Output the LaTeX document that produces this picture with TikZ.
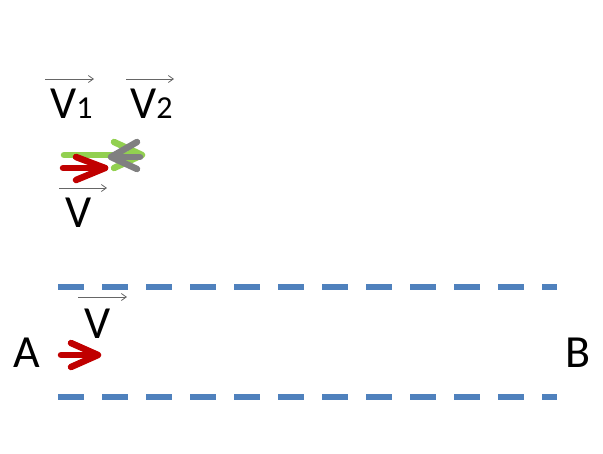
\documentclass[tikz,border=0pt]{standalone}
\usepackage{fontspec}
\setmainfont{Carlito}
\usetikzlibrary{arrows.meta}
\definecolor{myred}{HTML}{C00000}
\definecolor{mygreen}{HTML}{92D050}
\definecolor{mygray}{HTML}{808080}
\definecolor{myblue}{HTML}{4F81BD}
\begin{document}
\begin{tikzpicture}[x=1pt,y=-1pt,
  lbl/.style={inner sep=0pt,anchor=base west,font=\fontsize{46}{46}\selectfont},
  vecarrow/.style={draw=mygray!80!black,line width=0.8pt,-{Straight Barb[length=5pt,width=7pt]}},
  fat/.style={line width=6.5pt,line cap=round,line join=round},
  dashline/.style={myblue,line width=5.5pt,dash pattern=on 25.5pt off 18.5pt}]
\useasboundingbox (0,0) rectangle (603,453);
% labels
\node[lbl] (v1) at (50,118) {V{\fontsize{32}{32}\selectfont 1}};
\node[lbl] (v2) at (130,118) {V{\fontsize{32}{32}\selectfont 2}};
\node[lbl] (vm) at (65,227) {V};
\node[lbl] (vb) at (84,338) {V};
\node[lbl] (A) at (13,367) {A};
\node[lbl] (B) at (565,367) {B};
% vector arrows
\coordinate (a1s) at (45,79); \coordinate (a1e) at (94,79);
\coordinate (a2s) at (126,79); \coordinate (a2e) at (174,79);
\coordinate (ams) at (59,188); \coordinate (ame) at (107,188);
\coordinate (abs) at (78,297); \coordinate (abe) at (127,297);
\draw[vecarrow] (a1s) -- (a1e);
\draw[vecarrow] (a2s) -- (a2e);
\draw[vecarrow] (ams) -- (ame);
\draw[vecarrow] (abs) -- (abe);
% green arrow
\draw[fat,mygreen] (64,155) -- (142,155);
\draw[fat,mygreen] (114,142) -- (142,155) -- (114,168);
% gray arrow
\draw[fat,mygray] (140,157) -- (111,157);
\draw[fat,mygray] (137,142) -- (111,157) -- (137,169);
% red arrow
\draw[fat,myred] (63,168) -- (105,168);
\draw[fat,myred] (76,157) -- (105,168) -- (76,180);
% bottom red arrow
\draw[fat,myred] (61,355) -- (98,355);
\draw[fat,myred] (71,343) -- (98,355) -- (71,367);
% dashed lines
\draw[dashline] (58,287) -- (557,287);
\draw[dashline] (58,397) -- (557,397);
\end{tikzpicture}
\end{document}
